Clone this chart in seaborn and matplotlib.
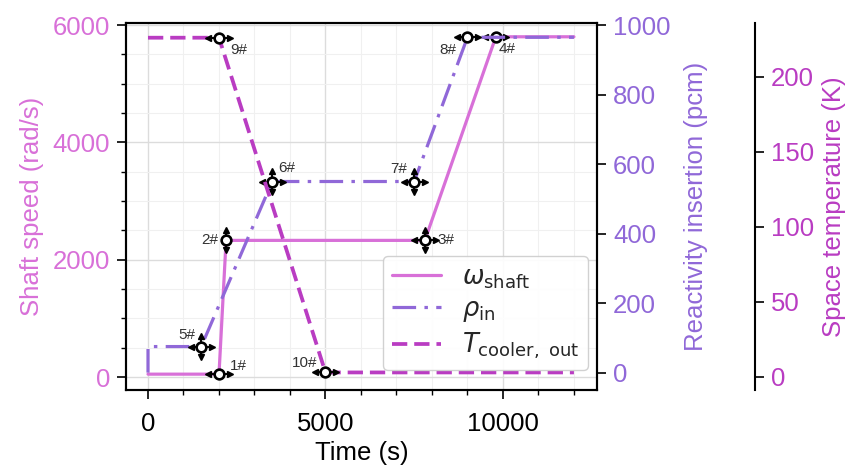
import matplotlib
matplotlib.use("Agg")
import matplotlib.pyplot as plt
from matplotlib.ticker import MultipleLocator
import numpy as np
import pandas as pd
import seaborn as sns

# ---- data -------------------------------------------------------------
shaft_t = [0, 2000, 2200, 7800, 9800, 12000]
shaft_w = [50, 50, 2330, 2330, 5800, 5800]          # rad/s

rho_t = [0, 0, 1500, 3500, 7500, 9000, 12000]
rho_v = [0, 75, 75, 550, 550, 965, 965]              # pcm

temp_t = [0, 2000, 5000, 12000]
temp_v = [226, 226, 3, 3]                            # K

# key points: (label, time, value, axis, has_xbar, has_ybar)
pt_labels = ["1#", "2#", "3#", "4#", "5#", "6#", "7#", "8#", "9#", "10#"]
pt_time = [2000, 2200, 7800, 9800, 1500, 3500, 7500, 9000, 2000, 5000]
pt_value = [50, 2330, 2330, 5800, 75, 550, 550, 965, 226, 3]
pt_axis = ["w", "w", "w", "w", "r", "r", "r", "r", "T", "T"]
pt_xbar = [True, False, True, True, True, True, True, True, True, True]
pt_ybar = [False, True, True, False, True, True, True, False, False, False]
# label offsets in points and alignment
pt_dx = [8, -6, 9, 8, -4, 4, -5, -8, 8, -6]
pt_dy = [6, 0, 0, -9, 8, 10, 9, -9, -9, 7]
pt_ha = ["left", "right", "left", "center", "right", "left", "right", "right", "left", "right"]

C_W = "#d870d8"
C_R = "#9068d8"
C_T = "#b93cc2"

sns.set_theme(style="ticks")
plt.rcParams["font.family"] = ["Liberation Sans", "DejaVu Sans"]
plt.rcParams["mathtext.fontset"] = "dejavusans"
plt.rcParams["lines.scale_dashes"] = False

FS = 18.5

fig = plt.figure(figsize=(8.53, 4.68), dpi=100)
ax = fig.add_axes([126 / 853, 1 - 390 / 468, (597 - 126) / 853, (390 - 22.7) / 468])
ax2 = ax.twinx()
ax3 = ax.twinx()

df_w = pd.DataFrame({"t": shaft_t, "v": shaft_w})
df_r = pd.DataFrame({"t": rho_t, "v": rho_v})
df_T = pd.DataFrame({"t": temp_t, "v": temp_v})

sns.lineplot(data=df_w, x="t", y="v", ax=ax, color=C_W, linewidth=2.3,
             estimator=None, sort=False, label=r"$\omega_{\rm shaft}$", legend=False)
sns.lineplot(data=df_r, x="t", y="v", ax=ax2, color=C_R, linewidth=2.3,
             estimator=None, sort=False, label=r"$\rho_{\rm in}$", legend=False)
sns.lineplot(data=df_T, x="t", y="v", ax=ax3, color=C_T, linewidth=2.7,
             estimator=None, sort=False, label=r"$T_{\rm cooler,\ out}$", legend=False)

line_w = ax.lines[-1]
line_r = ax2.lines[-1]
line_T = ax3.lines[-1]
line_w.set_linewidth(2.3)
line_r.set_linewidth(2.3)
line_T.set_linewidth(2.7)
line_r.set_dashes([17, 6, 2.5, 6])
line_T.set_dashes([11, 5])

ax.set_xlim(-620, 12650)
ax.set_ylim(-220, 6040)
ax2.set_ylim(-50, 1007)
ax3.set_ylim(-8.7, 236)

# key point markers with bars
axes_map = {"w": ax, "r": ax2, "T": ax3}
xerr_s = 300
yerr_map = {"w": 170, "r": 29, "T": 6}
for lab, t, v, a, hx, hy, dx, dy, ha in zip(pt_labels, pt_time, pt_value, pt_axis,
                                             pt_xbar, pt_ybar, pt_dx, pt_dy, pt_ha):
    axx = axes_map[a]
    ye = yerr_map[a]
    axx.errorbar([t], [v], xerr=[xerr_s] if hx else None, yerr=[ye] if hy else None,
                 fmt="none", ecolor="black", elinewidth=1.4, capsize=0, zorder=5)
    if hx:
        axx.plot([t - xerr_s], [v], marker="<", ms=3.8, color="black", ls="none", zorder=6)
        axx.plot([t + xerr_s], [v], marker=">", ms=3.8, color="black", ls="none", zorder=6)
    if hy:
        axx.plot([t], [v + ye], marker="^", ms=3.8, color="black", ls="none", zorder=6)
        axx.plot([t], [v - ye], marker="v", ms=3.8, color="black", ls="none", zorder=6)
    axx.plot([t], [v], marker="o", ms=7, mfc="white", mec="black", mew=1.9,
             ls="none", zorder=7)
    axx.annotate(lab, (t, v), xytext=(dx, dy), textcoords="offset points",
                 ha=ha, va="center", fontsize=11, color="#333333", zorder=8)

# grid
ax.xaxis.set_major_locator(MultipleLocator(5000))
ax.xaxis.set_minor_locator(MultipleLocator(1000))
ax.yaxis.set_major_locator(MultipleLocator(2000))
ax.yaxis.set_minor_locator(MultipleLocator(500))
ax.grid(True, which="major", color="#dcdcdc", lw=1.0)
ax.grid(True, which="minor", color="#f0f0f0", lw=0.8)
ax.set_axisbelow(True)

ax2.yaxis.set_major_locator(MultipleLocator(200))
ax3.yaxis.set_major_locator(MultipleLocator(50))

for a in (ax, ax2, ax3):
    for s in a.spines.values():
        s.set_linewidth(1.5)
        s.set_color("black")

ax.tick_params(axis="both", which="major", direction="out", length=6.5, width=1.2,
               labelsize=FS, pad=5, color="black")
ax.tick_params(axis="both", which="minor", direction="out", length=3.5, width=1.0,
               color="black")
ax.tick_params(axis="x", which="major", pad=9)
ax.tick_params(axis="y", labelcolor=C_W)
ax.tick_params(axis="x", labelcolor="black")
ax2.tick_params(axis="y", which="major", direction="out", length=6.5, width=1.2,
                labelsize=FS, pad=5, labelcolor=C_R, color="black")
ax3.tick_params(axis="y", which="major", direction="out", length=6.5, width=1.2,
                labelsize=FS, pad=5, labelcolor=C_T, color="black")

ax3.spines["right"].set_position(("axes", (755 - 126) / (597 - 126)))
for side in ("left", "top", "bottom"):
    ax3.spines[side].set_visible(False)

ax.set_xlabel("Time (s)", fontsize=FS, color="black", labelpad=4)
ax.set_ylabel("Shaft speed (rad/s)", fontsize=FS, color=C_W, labelpad=6)
ax2.set_ylabel("Reactivity insertion (pcm)", fontsize=FS, color=C_R, labelpad=10)
ax3.set_ylabel("Space temperature (K)", fontsize=FS, color=C_T, labelpad=6)

leg = ax3.legend(handles=[line_w, line_r, line_T], loc="lower right",
                 bbox_to_anchor=((588 - 126) / 471, (390 - 370) / 367.3),
                 borderaxespad=0, fontsize=FS, handlelength=1.9, frameon=True,
                 fancybox=True, framealpha=0.9, edgecolor="#cccccc",
                 labelspacing=0.25, borderpad=0.35, handletextpad=0.8)
leg.set_zorder(10)

fig.savefig("out.png", dpi=100)
